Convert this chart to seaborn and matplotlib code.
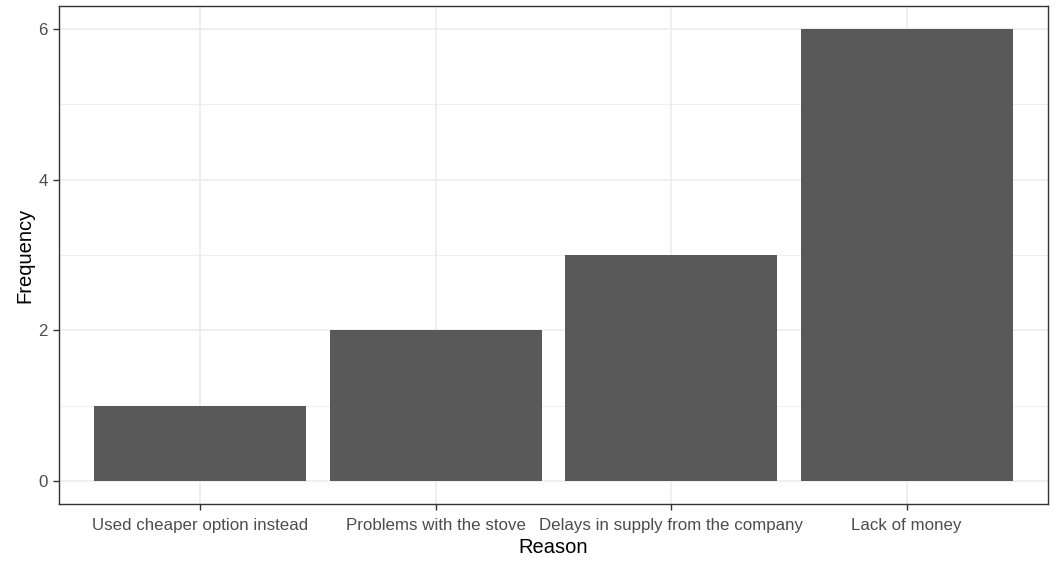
import pandas as pd
import seaborn as sns
import matplotlib.pyplot as plt
from matplotlib.ticker import MultipleLocator

reasons = ["Used cheaper option instead", "Problems with the stove",
           "Delays in supply from the company", "Lack of money"]
freq = [1, 2, 3, 6]

df = pd.DataFrame({"Reason": reasons, "Frequency": freq})

sns.set_theme(style="white")
plt.rcParams['font.family'] = ['Liberation Sans', 'DejaVu Sans']

fig = plt.figure(figsize=(10.57, 5.61), dpi=100)
ax = fig.add_axes([59 / 1057, 57 / 561, (1048 - 59) / 1057, (504 - 6) / 561])

sns.barplot(data=df, x="Reason", y="Frequency", color="#595959", width=0.9,
            saturation=1, linewidth=0, ax=ax, zorder=3)

ax.set_xlim(-0.6, 3.6)
ax.set_ylim(-0.3, 6.3)
ax.yaxis.set_major_locator(MultipleLocator(2))
ax.yaxis.set_minor_locator(MultipleLocator(1))
ax.grid(True, which="major", color="#EBEBEB", linewidth=1.1, zorder=0)
ax.grid(True, which="minor", axis="y", color="#EBEBEB", linewidth=0.55, zorder=0)
ax.set_axisbelow(True)

for s in ax.spines.values():
    s.set_color("#333333")
    s.set_linewidth(1.0)

ax.tick_params(axis="both", which="major", length=4, width=1, color="#333333",
               labelcolor="#4D4D4D", labelsize=12.2, pad=4, bottom=True, left=True)
ax.tick_params(axis="x", pad=6)
ax.tick_params(which="minor", length=0)
ax.set_xlabel("Reason", fontsize=14.5, color="black", labelpad=4)
ax.set_ylabel("Frequency", fontsize=14.5, color="black", labelpad=3)

fig.savefig("out.png", dpi=100)
